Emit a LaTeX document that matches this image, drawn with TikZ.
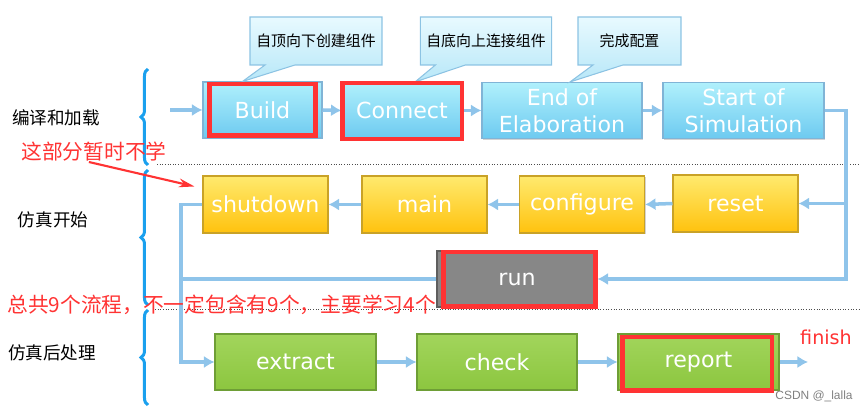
\documentclass[tikz,border=0pt]{standalone}
\usepackage{fontspec}
\setmainfont{DejaVu Sans}
\newfontfamily\cjk{Noto Sans CJK SC}
\newfontfamily\wmfont{Liberation Sans}
\usetikzlibrary{arrows.meta,calc,shapes.callouts,decorations.pathreplacing,shadows}

\definecolor{bluetop}{HTML}{B0F0FC}
\definecolor{bluebot}{HTML}{6DCAF0}
\definecolor{blueedge}{HTML}{80B4D6}
\definecolor{yeltop}{HTML}{FFEA6E}
\definecolor{yelbot}{HTML}{FFC20E}
\definecolor{yeledge}{HTML}{C9A227}
\definecolor{grntop}{HTML}{A2D55C}
\definecolor{grnbot}{HTML}{8CC63F}
\definecolor{grnedge}{HTML}{6E9E36}
\definecolor{runfill}{HTML}{878787}
\definecolor{runedge}{HTML}{5E5E5E}
\definecolor{tiptop}{HTML}{E8FAFF}
\definecolor{tipbot}{HTML}{B7E7F8}
\definecolor{tipedge}{HTML}{8CC3E3}
\definecolor{flowblue}{HTML}{8FC4EA}
\definecolor{braceblue}{HTML}{1AA0EE}
\definecolor{markred}{HTML}{FF3333}

\tikzset{
  phase/.style={rectangle, text=white, align=center, inner sep=1pt, line width=0.6pt,
    font=\fontsize{12.6}{15.3}\selectfont,
    drop shadow={shadow xshift=0.8pt, shadow yshift=-0.8pt, opacity=0.35}},
  elabph/.style={phase, draw=blueedge, top color=bluetop, bottom color=bluebot,
    minimum width=#1, minimum height=1.12cm},
  simph/.style={phase, draw=yeledge, top color=yeltop, bottom color=yelbot,
    minimum width=2.5cm, minimum height=1.14cm},
  postph/.style={phase, draw=grnedge, top color=grntop, bottom color=grnbot,
    minimum width=#1, minimum height=1.12cm},
  runph/.style={phase, draw=runedge, fill=runfill, minimum width=3.2cm, minimum height=1.12cm},
  tip/.style={rectangle callout, draw=tipedge, top color=tiptop, bottom color=tipbot,
    line width=0.6pt, callout pointer width=0.6cm, minimum height=0.96cm,
    font=\cjk\fontsize{8.5}{10}\selectfont},
  flow/.style={draw=flowblue, line width=2pt, -{Latex[length=6pt,width=7pt]}},
  flowline/.style={draw=flowblue, line width=2pt},
  redframe/.style={draw=markred, line width=2.3pt},
  stagebrace/.style={draw=braceblue, line width=1.7pt, decorate,
    decoration={brace, amplitude=4pt}},
  sep/.style={draw=gray!60!black, densely dotted, line width=0.5pt},
  stage/.style={font=\cjk\fontsize{10}{12}\selectfont},
  note/.style={text=markred, inner sep=0pt, font=\cjk\fontsize{11.8}{14}\selectfont}
}

\begin{document}
\begin{tikzpicture}[x=0.02cm,y=-0.02cm]
\useasboundingbox (0,0) rectangle (865,411);

\draw[sep] (157,164) -- (860,164);
\draw[sep] (155,309) -- (860,309);

\node[stage] (compile) at (56,118) {编译和加载};
\node[stage] (simstart) at (53,220) {仿真开始};
\node[stage] (simpost) at (52,353) {仿真后处理};

\draw[stagebrace] (148,165) -- (148,69);
\draw[stagebrace] (148,305) -- (148,170);
\draw[stagebrace] (148,405) -- (148,310);

\node[elabph=2.38cm] (build) at (262.5,110) {Build};
\node[elabph=2.4cm] (connect) at (402,110.5) {Connect};
\node[elabph=3.2cm] (eoe) at (562,110.5) {End of\\Elaboration};
\node[elabph=3.22cm] (sos) at (743.5,110.5) {Start of\\Simulation};

\node[simph] (shutdown) at (265.5,204.5) {shutdown};
\node[simph] (main) at (424.5,204.5) {main};
\node[simph] (configure) at (582,204.5) {configure};
\node[simph] (reset) at (735.5,203.5) {reset};

\node[runph] (run) at (517,279) {run};

\node[postph=3.22cm] (extract) at (295.5,362) {extract};
\node[postph=3.2cm] (check) at (497,362) {check};
\node[postph=3.22cm] (report) at (698.5,362) {report};

\node[tip, minimum width=2.64cm, callout absolute pointer={($(build.north)+(-20,0)$)}]
  (tipbuild) at (316,41) {自顶向下创建组件};
\node[tip, minimum width=2.52cm, callout absolute pointer={($(connect.north)+(13,0)$)}]
  (tipconnect) at (486,41) {自底向上连接组件};
\node[tip, minimum width=2.06cm, callout absolute pointer={($(eoe.north)+(8,0)$)}]
  (tipeoe) at (629.5,41) {完成配置};

\coordinate (entry) at (170,110);
\coordinate (turn) at (846,110.5);
\coordinate (bend) at (181,204.5);
\coordinate (done) at (808,362);

\draw[flow] (entry) -- (build.west);
\draw[flow] (build.east) -- (connect.west);
\draw[flow] (connect.east) -- (eoe.west);
\draw[flow] (eoe.east) -- (sos.west);
\draw[flow] (sos.east) -- (turn) |- (reset.east);
\draw[flow] (turn) |- (run.east);
\draw[flow] (reset.west) -- (configure.east);
\draw[flow] (configure.west) -- (main.east);
\draw[flow] (main.west) -- (shutdown.east);
\draw[flowline] (run.west) -- (run.west -| bend);
\draw[flow] (shutdown.west) -- (bend) |- (extract.west);
\draw[flow] (extract.east) -- (check.west);
\draw[flow] (check.east) -- (report.west);
\draw[flow] (report.east) -- (done);

\draw[redframe] ([shift={(7,3)}]build.north west) rectangle ([shift={(-7,-3)}]build.south east);
\draw[redframe] ([shift={(1,1)}]connect.north west) rectangle ([shift={(-1,0)}]connect.south east);
\draw[redframe] ([shift={(7,2)}]run.north west) rectangle ([shift={(-2,-1)}]run.south east);
\draw[redframe] ([shift={(5,4)}]report.north west) rectangle ([shift={(-8,0)}]report.south east);

\node[note, anchor=west] (skip) at (21,152) {这部分暂时不学};
\draw[draw=markred, line width=1.2pt, -{Stealth[length=9pt,width=5pt]}]
  ($(skip.south)+(-5,0)$) -- ($(shutdown.north west)+(-8,11)$);
\node[note, anchor=west] (total) at (7,305) {总共9个流程，不一定包含有9个，主要学习4个};

\node[text=markred, font=\fontsize{10.9}{13}\selectfont] (finish) at (826,337) {finish};
\node[text=gray, font=\wmfont\fontsize{6.8}{8}\selectfont] (wm) at (814,396) {CSDN @\_lalla};
\end{tikzpicture}
\end{document}
